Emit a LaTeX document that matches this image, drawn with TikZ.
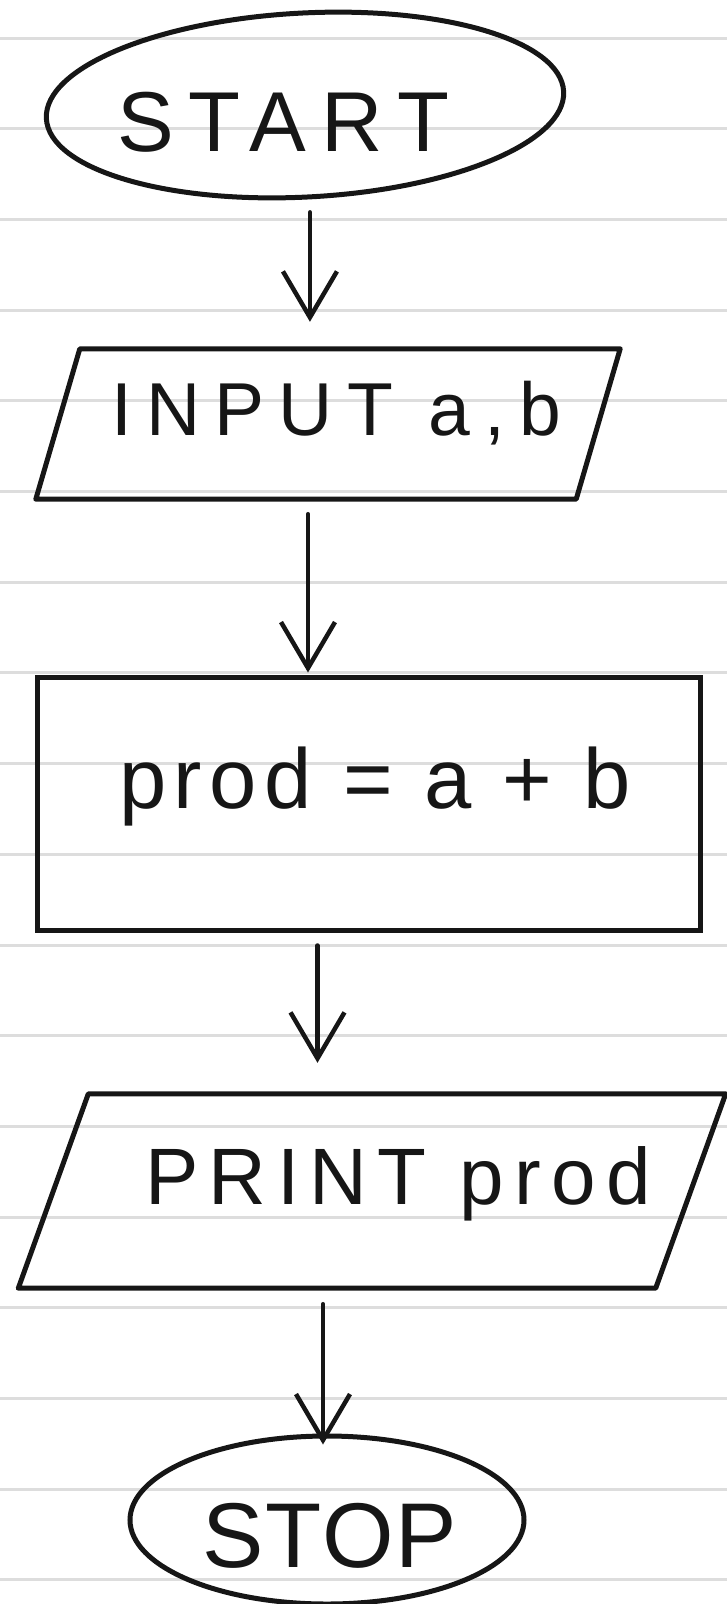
\documentclass[tikz,border=0pt]{standalone}
\usepackage{fontspec}
\setmainfont{Liberation Sans}
\usepackage{tikz}
\usetikzlibrary{shapes.geometric, arrows.meta, positioning, calc}
\definecolor{ruleline}{RGB}{221,221,221}
\definecolor{inkblack}{RGB}{22,22,22}

\tikzset{
  ink/.style={draw=inkblack, line width=5pt},
  terminal/.style={ink, ellipse, inner sep=0pt},
  iobody/.style={rectangle, inner sep=0pt},
  procbox/.style={ink, rectangle, inner sep=0pt},
  flow/.style={inkblack, line width=4.5pt, line cap=round,
               -{Straight Barb[length=46pt, width=54pt, line width=4.5pt]}},
  hand/.style={inkblack, anchor=base, inner sep=0pt}
}

\begin{document}
\begin{tikzpicture}[x=1pt, y=-1pt]
\useasboundingbox (0,0) rectangle (727,1604);

% ruled paper
\foreach \k in {0,...,17}
  \draw[ruleline, line width=3pt] (0,38+90.7*\k) -- (727,38+90.7*\k);

% start
\node[terminal, rotate=3, minimum width=518pt, minimum height=184pt] (start) at (305,105) {};
\node[hand, font=\fontsize{85}{90}\selectfont\addfontfeatures{LetterSpace=18}] (starttext) at (283,151) {START};

% input -- slanted box round a plain body
\node[iobody, minimum width=540pt, minimum height=150pt] (in) at (328,424) {};
\draw[ink, line join=round] ([xshift=22pt]in.north west) -- ([xshift=22pt]in.north east)
  -- ([xshift=-22pt]in.south east) -- ([xshift=-22pt]in.south west) -- cycle;
\node[hand, font=\fontsize{75}{80}\selectfont\addfontfeatures{LetterSpace=19}] (intext) at (336,435) {INPUT a,b};

% process
\node[procbox, minimum width=663pt, minimum height=253pt] (calc) at (368.5,803.5) {};
\node[hand, font=\fontsize{85}{90}\selectfont\addfontfeatures{LetterSpace=9}] (calctext) at (375,808) {prod = a + b};

% output
\node[iobody, minimum width=637pt, minimum height=194pt] (out) at (372,1191) {};
\draw[ink, line join=round] ([xshift=35pt]out.north west) -- ([xshift=35pt]out.north east)
  -- ([xshift=-35pt]out.south east) -- ([xshift=-35pt]out.south west) -- cycle;
\node[hand, font=\fontsize{80}{85}\selectfont\addfontfeatures{LetterSpace=13}] (outtext) at (398,1204) {PRINT prod};

% stop
\node[terminal, minimum width=394pt, minimum height=168pt] (stop) at (327,1520) {};
\node[hand, font=\fontsize{92}{96}\selectfont\addfontfeatures{LetterSpace=2}] (stoptext) at (330,1567) {STOP};

% flow lines
\draw[flow, shorten <=13pt, shorten >=27pt] (start.south) -- (start.south |- in.north);
\draw[flow, shorten <=15pt, shorten >=2pt] ([xshift=-20pt]in.south) -- ([xshift=-20pt]in.south |- calc.north);
\draw[flow, shorten <=13pt, shorten >=31pt] ([xshift=-51pt]calc.south) -- ([xshift=-51pt]calc.south |- out.north);
\draw[flow, shorten <=16pt, shorten >=-11pt] ([xshift=-49pt]out.south) -- ([xshift=-49pt]out.south |- stop.north);

\end{tikzpicture}
\end{document}
